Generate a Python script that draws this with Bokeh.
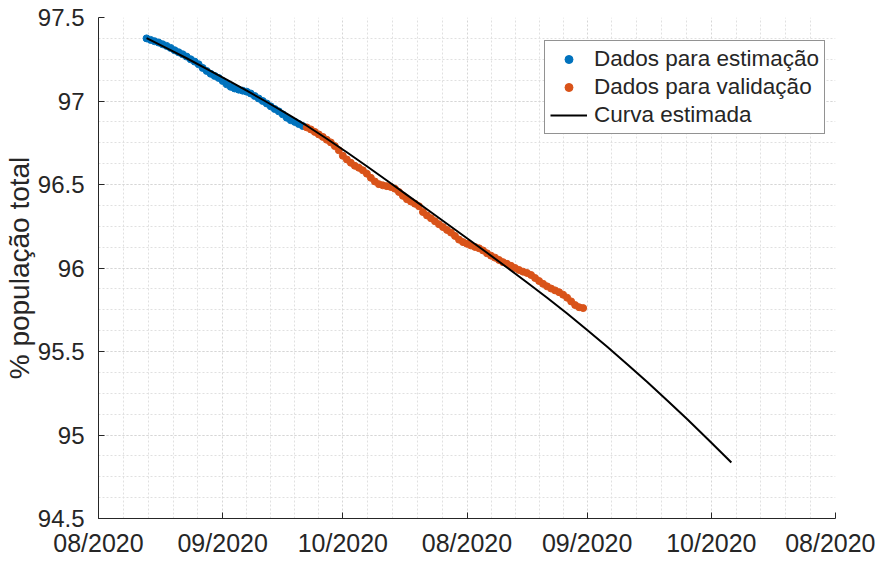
import numpy as np
import pandas as pd
from bokeh.plotting import figure
from bokeh.models import Range1d, FixedTicker, Legend, LegendItem
from bokeh.embed import file_html
from bokeh.resources import INLINE

# ---------------- data ----------------
est_start = "2020-08-13"
est_values = [97.375, 97.366, 97.358, 97.350, 97.340, 97.330, 97.318, 97.304, 97.292, 97.280,
              97.266, 97.250, 97.236, 97.220, 97.198, 97.180, 97.163, 97.150, 97.138, 97.120,
              97.100, 97.085, 97.075, 97.068, 97.062, 97.056, 97.045, 97.030, 97.015, 97.000,
              96.985, 96.968, 96.952, 96.938, 96.920, 96.900, 96.885, 96.875, 96.862, 96.850]

val_start = "2020-09-22"
val_values = [96.842, 96.830, 96.815, 96.800, 96.785, 96.768, 96.752, 96.730, 96.705, 96.672,
              96.650, 96.630, 96.612, 96.600, 96.585, 96.565, 96.540, 96.518, 96.502, 96.495,
              96.490, 96.485, 96.475, 96.455, 96.432, 96.412, 96.398, 96.385, 96.370, 96.335,
              96.315, 96.298, 96.280, 96.262, 96.245, 96.228, 96.212, 96.192, 96.170, 96.155,
              96.145, 96.135, 96.126, 96.118, 96.105, 96.088, 96.074, 96.062, 96.048, 96.035,
              96.025, 96.013, 96.000, 95.988, 95.978, 95.970, 95.958, 95.940, 95.922, 95.905,
              95.890, 95.877, 95.866, 95.855, 95.840, 95.822, 95.800, 95.778, 95.765, 95.760]

# fitted curve, read every 5 days from 2020-08-13, plus its end point
curve_start = "2020-08-13"
curve_values = [97.376, 97.317, 97.256, 97.193, 97.128, 97.062, 96.994, 96.924, 96.852,
                96.774, 96.693, 96.609, 96.524, 96.438, 96.352, 96.265, 96.178, 96.091,
                96.003, 95.913, 95.822, 95.728, 95.629, 95.528, 95.424, 95.317, 95.207,
                95.094, 94.978, 94.859]
curve_end_date = "2021-01-06"
curve_end_value = 94.835

month_starts = ["2020-08-01", "2020-09-01", "2020-10-01", "2020-11-01", "2020-12-01",
                "2021-01-01", "2021-02-01"]
x_tick_labels = ["08/2020", "09/2020", "10/2020", "08/2020", "09/2020", "10/2020", "08/2020"]
y_ticks = [94.5, 95.0, 95.5, 96.0, 96.5, 97.0, 97.5]
y_tick_labels = ["94.5", "95", "95.5", "96", "96.5", "97", "97.5"]

series_names = ["Dados para estimação", "Dados para validação", "Curva estimada"]
y_label = "% população total"

# ---------------- build ----------------
est_dates = pd.date_range(est_start, periods=len(est_values), freq="D")
val_dates = pd.date_range(val_start, periods=len(val_values), freq="D")
curve_dt = list(pd.date_range(curve_start, periods=len(curve_values), freq="5D")) + [pd.Timestamp(curve_end_date)]
curve_y = list(curve_values) + [curve_end_value]

def ms(d):
    return int(pd.Timestamp(d).value // 10**6)

x_major = [ms(d) for d in month_starts]
x_minor = []
for a, b in zip(x_major[:-1], x_major[1:]):
    for k in range(1, 5):
        x_minor.append(a + (b - a) * k / 5.0)
y_minor = [float(v) for v in np.arange(94.5, 97.5001, 0.125)]

FONT = "Liberation Sans"
TXT = "#262626"

p = figure(width=875, height=559, x_axis_type="datetime",
           output_backend="svg", toolbar_location=None,
           x_range=Range1d(pd.Timestamp(month_starts[0]), pd.Timestamp(month_starts[-1])),
           y_range=Range1d(94.5, 97.5),
           min_border_left=93, min_border_right=40, min_border_top=17, min_border_bottom=30)
p.outline_line_color = None
p.background_fill_color = "white"

p.xaxis.ticker = FixedTicker(ticks=x_major, minor_ticks=x_minor)
p.yaxis.ticker = FixedTicker(ticks=y_ticks, minor_ticks=y_minor)
p.xaxis.major_label_overrides = {t: l for t, l in zip(x_major, x_tick_labels)}
p.yaxis.major_label_overrides = {t: l for t, l in zip(y_ticks, y_tick_labels)}

for ax in (p.xaxis[0], p.yaxis[0]):
    ax.axis_line_color = TXT
    ax.axis_line_width = 1
    ax.major_tick_in = 6
    ax.major_tick_out = 0
    ax.major_tick_line_color = TXT
    ax.minor_tick_line_color = None
    ax.major_label_text_font = FONT
    ax.major_label_text_color = TXT
    ax.major_label_text_font_size = "24px"

p.xaxis.major_label_text_font_size = "25px"
p.xaxis.major_label_standoff = 6
p.yaxis.major_label_standoff = 10
p.yaxis.axis_label = y_label
p.yaxis.axis_label_text_font = FONT
p.yaxis.axis_label_text_font_size = "28px"
p.yaxis.axis_label_text_font_style = "normal"
p.yaxis.axis_label_text_color = TXT
p.yaxis.axis_label_standoff = 0

for g in (p.xgrid[0], p.ygrid[0]):
    g.grid_line_color = "#d6d6d6"
    g.grid_line_dash = "2 2"
    g.grid_line_width = 1
    g.minor_grid_line_color = "#e0e0e0"
    g.minor_grid_line_dash = "2 2"
    g.minor_grid_line_width = 1

r_est = p.scatter(est_dates, est_values, size=7, color="#0072BD", marker="circle")
r_val = p.scatter(val_dates, val_values, size=7, color="#D95319", marker="circle")
r_curve = p.line(curve_dt, curve_y, line_width=2, color="black")

legend = Legend(items=[LegendItem(label=series_names[0], renderers=[r_est]),
                       LegendItem(label=series_names[1], renderers=[r_val]),
                       LegendItem(label=series_names[2], renderers=[r_curve])],
                location=(446, 384))
legend.label_text_font = FONT
legend.label_text_font_size = "22.5px"
legend.label_text_color = TXT
legend.border_line_color = TXT
legend.border_line_width = 1
legend.padding = 5
legend.spacing = 2
legend.margin = 0
legend.glyph_width = 37
legend.glyph_height = 20
legend.label_standoff = 7
legend.background_fill_color = "white"
legend.background_fill_alpha = 1
p.add_layout(legend)

open("out.html", "w").write(file_html(p, INLINE))
